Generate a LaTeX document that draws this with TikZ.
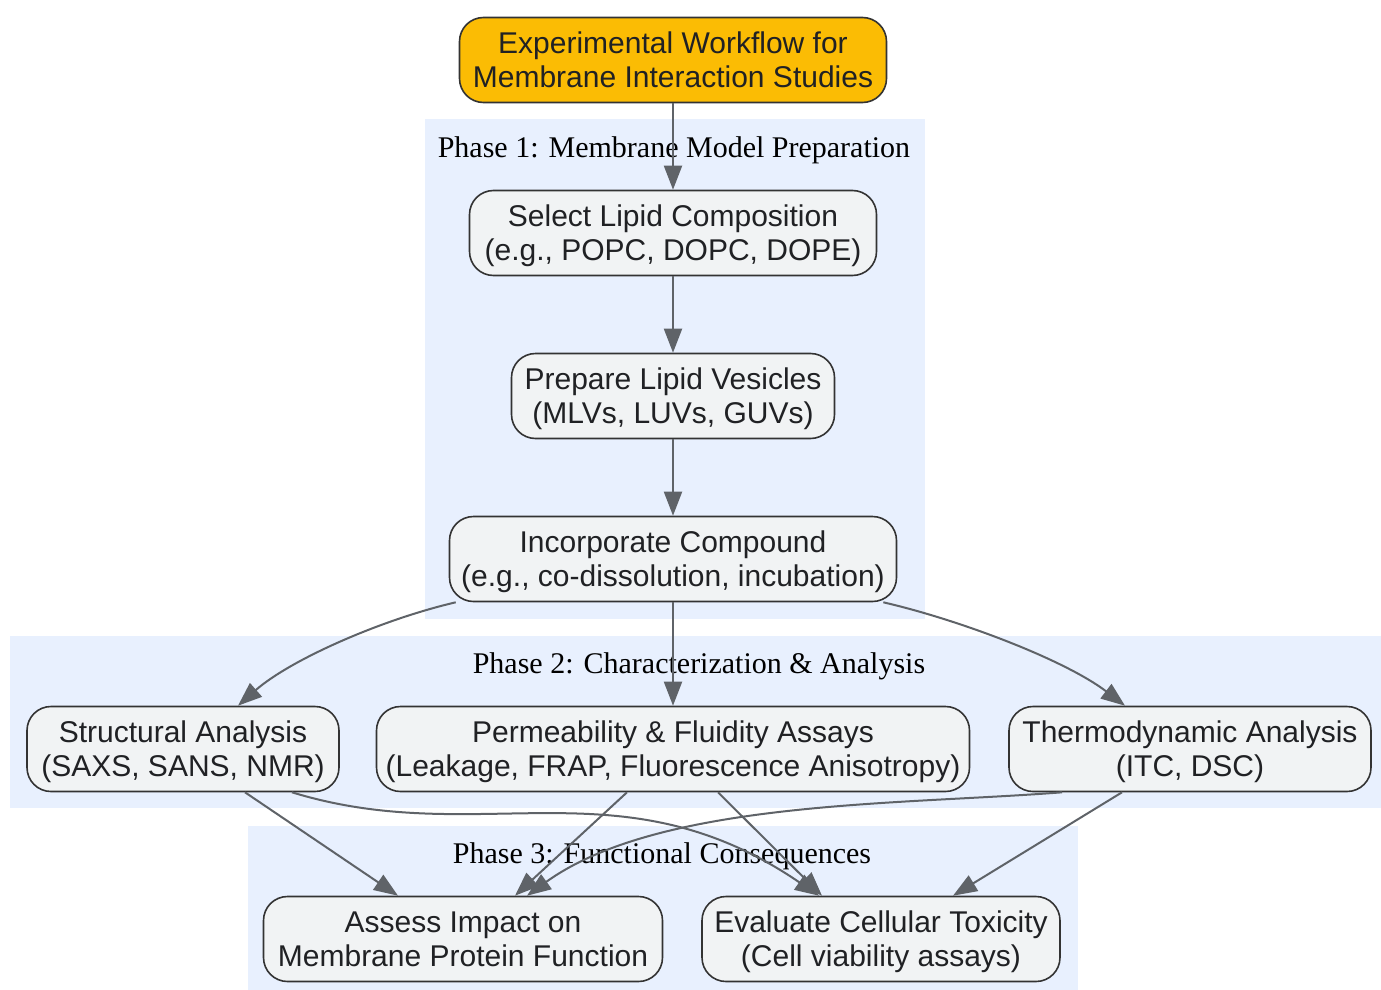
\documentclass[tikz,border=0pt]{standalone}
\usepackage{fontspec}
\setmainfont{Liberation Serif}
\newfontfamily\boxfont{Liberation Sans}
\usetikzlibrary{arrows.meta}

\definecolor{clusterfill}{HTML}{E8F0FE}
\definecolor{boxfill}{HTML}{F1F3F4}
\definecolor{boxline}{HTML}{333333}
\definecolor{linkgray}{HTML}{5F6368}
\definecolor{topfill}{HTML}{FBBC04}
\definecolor{boxtext}{HTML}{202124}

\tikzset{
  stepbox/.style={draw=boxline, line width=1.6pt, fill=boxfill, rounded corners=24pt,
    minimum height=85pt, inner sep=0pt, align=center, text=boxtext,
    font=\boxfont\fontsize{30}{34}\selectfont, text depth=0pt},
  topbox/.style={stepbox, fill=topfill},
  phaselabel/.style={font=\fontsize{30}{34}\selectfont, text=black},
  cluster/.style={fill=clusterfill},
  link/.style={draw=linkgray, line width=2pt, -{Triangle[length=24pt,width=18pt]}}
}

\begin{document}
\begin{tikzpicture}[x=1pt,y=-1pt]
   \useasboundingbox (0,0) rectangle (1381,990);

   \fill[cluster] (425,119) rectangle (925,619);
   \fill[cluster] (10,636) rectangle (1381,808);
   \fill[cluster] (248,826) rectangle (1078,990);

   \node[phaselabel] (phaseone) at (674,150) {Phase 1: Membrane Model Preparation};
   \node[phaselabel] (phasetwo) at (699,666) {Phase 2: Characterization \& Analysis};
   \node[phaselabel] (phasethree) at (662,856) {Phase 3: Functional Consequences};

   \node[topbox, minimum width=427pt] (top) at (673,60)
     {Experimental Workflow for\\Membrane Interaction Studies};
   \node[stepbox, minimum width=407pt] (lipid) at (673,233)
     {Select Lipid Composition\\(e.g., POPC, DOPC, DOPE)};
   \node[stepbox, minimum width=323pt] (vesicle) at (673,396)
     {Prepare Lipid Vesicles\\(MLVs, LUVs, GUVs)};
   \node[stepbox, minimum width=447pt] (compound) at (673,559)
     {Incorporate Compound\\(e.g., co-dissolution, incubation)};

   \node[stepbox, minimum width=312pt] (struct) at (183,749)
     {Structural Analysis\\(SAXS, SANS, NMR)};
   \node[stepbox, minimum width=593pt] (perm) at (673,749)
     {Permeability \& Fluidity Assays\\(Leakage, FRAP, Fluorescence Anisotropy)};
   \node[stepbox, minimum width=362pt] (thermo) at (1190,749)
     {Thermodynamic Analysis\\(ITC, DSC)};

   \node[stepbox, minimum width=399pt] (protein) at (463,939)
     {Assess Impact on\\Membrane Protein Function};
   \node[stepbox, minimum width=358pt] (toxic) at (881,939)
     {Evaluate Cellular Toxicity\\(Cell viability assays)};

   \draw[link] (top) -- (lipid);
   \draw[link] (lipid) -- (vesicle);
   \draw[link] (vesicle) -- (compound);
   \draw[link] (compound) -- (perm);
   \draw[link] ([xshift=7pt]compound.south west) .. controls (380,620) and (290,660) ..
     ([xshift=55pt]struct.north);
   \draw[link] ([xshift=-14pt]compound.south east) .. controls (960,620) and (1065,660) ..
     ([xshift=-65pt]thermo.north);

   \draw[link] ([xshift=62pt]struct.south) -- ([xshift=-65pt]protein.north);
   \draw[link] ([xshift=109pt]struct.south) .. controls (480,850) and (620,760) ..
     ([xshift=-62pt]toxic.north);
   \draw[link] ([xshift=-46pt]perm.south) -- ([xshift=52pt]protein.north);
   \draw[link] ([xshift=45pt]perm.south) -- ([xshift=-59pt]toxic.north);
   \draw[link] ([xshift=-128pt]thermo.south) .. controls (900,805) and (660,800) ..
     ([xshift=64pt]protein.north);
   \draw[link] ([xshift=-68pt]thermo.south) -- ([xshift=72pt]toxic.north);
 \end{tikzpicture}
\end{document}
